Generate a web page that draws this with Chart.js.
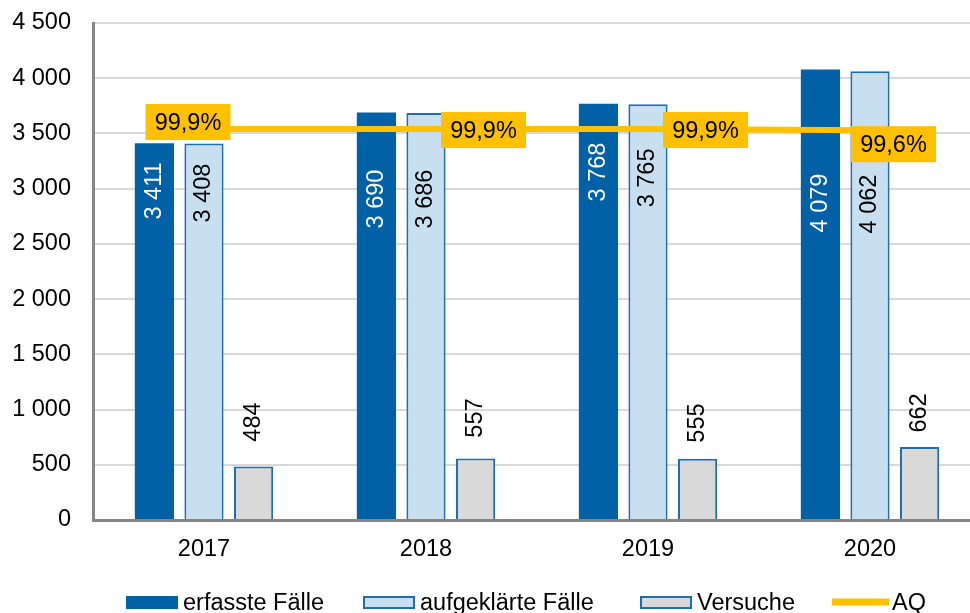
<!DOCTYPE html>
<html><head><meta charset="utf-8">
<script src="https://cdn.jsdelivr.net/npm/chart.js@4/dist/chart.umd.min.js"></script>
<style>html,body{margin:0;padding:0;overflow:hidden;background:#fff;width:970px;height:613px}canvas{display:block}</style>
</head><body>
<canvas id="c" width="981" height="613"></canvas>
<script>
const categories = ['2017', '2018', '2019', '2020'];
const erfassteFaelle = [3411, 3690, 3768, 4079];
const aufgeklaerteFaelle = [3408, 3686, 3765, 4062];
const versuche = [484, 557, 555, 662];
const aq = [99.9, 99.9, 99.9, 99.6];
const yTickValues = [0, 500, 1000, 1500, 2000, 2500, 3000, 3500, 4000, 4500];
const seriesNames = ['erfasste Fälle', 'aufgeklärte Fälle', 'Versuche', 'AQ'];

const FONT = '"Liberation Sans", Arial, sans-serif';
const FS = 23.5;
const C_DARK = '#0061A7', C_LIGHT = '#C8DFEF', C_BORDER = '#1E6EB6', C_GRAY = '#D9D9D9', C_AQ = '#FFC000';

function fmt(v) { return String(v).replace(/\B(?=(\d{3})+(?!\d))/g, ' '); }
function fmtPct(v) { return v.toFixed(1).replace('.', ',') + '%'; }

const labelPlugin = {
  id: 'valueLabels',
  afterDatasetsDraw(chart, args, opts) {
    const ctx = chart.ctx, ys = chart.scales.y;
    ctx.save();
    ctx.font = FS + 'px ' + FONT;
    ctx.textAlign = 'center';
    ctx.textBaseline = 'middle';
    const rot = (dsIndex, centers, color) => {
      const meta = chart.getDatasetMeta(dsIndex);
      meta.data.forEach((bar, i) => {
        const v = chart.data.datasets[dsIndex].data[i];
        ctx.save();
        ctx.translate(bar.x, ys.getPixelForValue(centers[i]));
        ctx.rotate(-Math.PI / 2);
        ctx.fillStyle = color;
        ctx.fillText(fmt(v), 0, 0);
        ctx.restore();
      });
    };
    rot(0, opts.darkCenters, '#FFFFFF');
    rot(1, opts.lightCenters, '#000000');
    rot(2, opts.versCenters, '#000000');
    const lm = chart.getDatasetMeta(3);
    lm.data.forEach((pt, i) => {
      const o = opts.aqOffsets[i];
      const cx = pt.x + o[0], cy = pt.y + o[1];
      ctx.fillStyle = C_AQ;
      ctx.fillRect(cx - 42.5, cy - 18, 85, 36);
      ctx.fillStyle = '#000';
      ctx.fillText(fmtPct(chart.data.datasets[3].data[i]), cx, cy + 1);
    });
    ctx.restore();
  }
};

const legendPlugin = {
  id: 'customLegend',
  afterDraw(chart, args, opts) {
    const ctx = chart.ctx;
    ctx.save();
    ctx.font = FS + 'px ' + FONT;
    ctx.textBaseline = 'alphabetic';
    ctx.textAlign = 'left';
    const ds = chart.data.datasets;
    opts.xs.forEach((x, i) => {
      const d = ds[i];
      if (i === 3) {
        ctx.fillStyle = d.borderColor;
        ctx.fillRect(x, 598.5, 57, 7);
        ctx.fillStyle = '#000';
        ctx.fillText(d.label, x + 60, 610);
      } else {
        ctx.fillStyle = d.backgroundColor;
        ctx.fillRect(x, 596, 52, 13);
        if (i > 0) {
          ctx.strokeStyle = d.borderColor;
          ctx.lineWidth = 2;
          ctx.strokeRect(x + 1, 597, 50, 11);
        }
        ctx.fillStyle = '#000';
        ctx.fillText(d.label, x + 57, 610);
      }
    });
    ctx.restore();
  }
};

new Chart(document.getElementById('c'), {
  data: {
    labels: categories,
    datasets: [
      { type: 'bar', label: seriesNames[0], data: erfassteFaelle, backgroundColor: C_DARK, borderColor: C_DARK, borderWidth: 0, order: 1 },
      { type: 'bar', label: seriesNames[1], data: aufgeklaerteFaelle, backgroundColor: C_LIGHT, borderColor: C_BORDER, borderWidth: 2, order: 1 },
      { type: 'bar', label: seriesNames[2], data: versuche, backgroundColor: C_GRAY, borderColor: C_BORDER, borderWidth: 2, order: 1 },
      { type: 'line', label: seriesNames[3], data: aq, yAxisID: 'y2', borderColor: C_AQ, backgroundColor: C_AQ, borderWidth: 6, pointRadius: 0, tension: 0, fill: false, order: 0 }
    ]
  },
  options: {
    responsive: false,
    animation: false,
    devicePixelRatio: 1,
    layout: { padding: { top: 23, bottom: 50, left: 0, right: 0 } },
    datasets: { bar: { barPercentage: 0.79, categoryPercentage: 0.67 } },
    plugins: {
      legend: { display: false },
      tooltip: { enabled: false },
      valueLabels: {
        darkCenters: [2979, 2906, 3151, 2870],
        lightCenters: [2961, 2906, 3097, 2861],
        versCenters: [887, 923, 878, 969],
        aqOffsets: [[-16, -7], [57.5, 1], [57.5, 1], [23.5, 14]]
      },
      customLegend: { xs: [126, 363, 640, 832] }
    },
    scales: {
      x: {
        grid: { display: false, drawTicks: false },
        border: { display: true, color: '#868686', width: 3 },
        ticks: { color: '#000', font: { family: FONT, size: FS }, padding: 15 },
        afterFit(s) { s.height = 43; }
      },
      y: {
        min: 0, max: 4500,
        afterBuildTicks(s) { s.ticks = yTickValues.map(v => ({ value: v })); },
        grid: { color: '#D9D9D9', lineWidth: 2, drawTicks: false },
        border: { display: true, color: '#868686', width: 3 },
        ticks: { color: '#000', font: { family: FONT, size: FS }, padding: 22, callback: v => fmt(v) },
        afterFit(s) { s.width = 93; s.paddingTop = 0; s.paddingBottom = 0; }
      },
      y2: { display: false, min: 0, max: 127 }
    }
  },
  plugins: [labelPlugin, legendPlugin]
});
</script>
</body></html>
